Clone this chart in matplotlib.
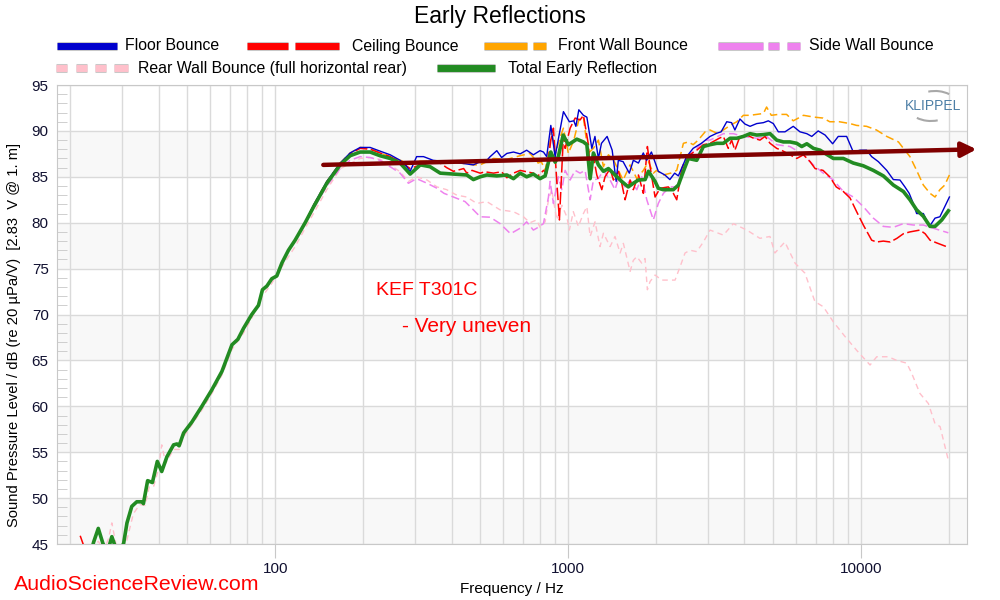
import numpy as np
import matplotlib
matplotlib.use('Agg')
from matplotlib import pyplot as plt
from matplotlib.lines import Line2D
from matplotlib.patches import Arc
from matplotlib.ticker import FixedLocator, NullFormatter, MultipleLocator, FuncFormatter
import matplotlib.patheffects as pe

plt.rcParams['font.family'] = ['Liberation Sans', 'DejaVu Sans']
plt.rcParams['lines.scale_dashes'] = False

# low end: all curves sit on top of each other below ~130 Hz
lf_pts = [(22.5, 44.3), (23.3, 43.6), (24.0, 45.2), (24.9, 46.7), (25.8, 45.1), (26.7, 44.0),
          (27.7, 45.8), (28.4, 44.8), (29.4, 44.0), (30.4, 45.1), (31.2, 47.3), (32.4, 49.1),
          (33.7, 49.6), (35.2, 49.6), (35.5, 49.4), (36.7, 51.9), (38.1, 51.7), (39.6, 54.0),
          (41.0, 52.9), (42.7, 54.5), (45.0, 55.8), (46.2, 55.9), (47.0, 55.7), (48.7, 57.1),
          (52.0, 58.3), (56.2, 60.0), (60.8, 61.8), (65.8, 63.8), (71.2, 66.7), (74.6, 67.3),
          (78.0, 68.5), (83.2, 70.0), (87.7, 71.0), (90.5, 72.7), (93.7, 73.1), (97.4, 73.9),
          (101.3, 74.2), (105.4, 75.6), (111.0, 77.0), (117.0, 78.1), (126.6, 80.0)]

floor_pts = [(135.1, 81.9), (150.1, 84.5), (166.7, 86.5), (180.3, 87.6), (195, 88.2), (211, 88.2),
             (228, 87.8), (247, 87.4), (267, 86.8), (280, 86.2), (289, 85.6), (304, 87.2), (321, 87.2),
             (346, 86.8), (385, 86.65), (428, 86.5), (475, 86.3), (501, 86.65), (528, 86.8), (542, 87.2),
             (571, 87.85), (593, 87.1), (618, 87.55), (651, 87.7), (686, 87.5), (722, 87.9), (761, 87.4),
             (802, 87.85), (824, 87.7), (845, 87.2), (873, 90.6), (903, 87.2), (964, 92.1), (1010, 91.0),
             (1046, 91.1), (1063, 90.5), (1088, 92.3), (1128, 91.7), (1159, 91.5), (1205, 88.1),
             (1235, 89.4), (1269, 87.0), (1300, 88.65), (1359, 89.4), (1414, 87.9), (1459, 84.5),
             (1484, 86.8), (1541, 86.65), (1618, 85.4), (1670, 86.8), (1738, 86.5), (1806, 87.6),
             (1854, 86.8), (1925, 87.7), (2032, 85.6), (2140, 85.2), (2225, 84.7), (2311, 85.4),
             (2379, 85.1), (2539, 87.2), (2672, 88.1), (2852, 88.65), (3052, 89.4), (3218, 89.75),
             (3330, 89.9), (3480, 91.0), (3615, 90.9), (3710, 90.1), (3860, 91.3), (4015, 90.75),
             (4180, 90.5), (4404, 90.8), (4641, 90.9), (4825, 91.1), (5018, 90.8), (5220, 89.9),
             (5500, 89.9), (5870, 90.5), (6190, 89.9), (6530, 89.7), (6790, 89.4), (7140, 90.0),
             (7540, 89.55), (8000, 88.6), (8360, 89.4), (8930, 89.4), (9410, 87.7), (9920, 87.9),
             (10450, 87.9), (10870, 87.2), (11460, 86.65), (12240, 85.7), (12890, 84.7), (13580, 84.65),
             (14120, 83.9), (14600, 83.2), (15080, 82.1), (15480, 81.0), (16320, 81.0), (17130, 79.6),
             (17890, 80.5), (18590, 80.65), (20030, 82.8)]

ceiling_start = [(21.6, 45.9)]
ceiling_pts = [(135.1, 81.8), (150.1, 84.4), (166.7, 86.4), (180.3, 87.5), (195, 88.1), (211, 88.0),
               (228, 87.6), (247, 87.2), (267, 86.65), (289, 85.9), (313, 86.3), (338, 86.5), (366, 86.5),
               (385, 86.0), (406, 85.6), (440, 85.9), (451, 85.4), (470, 85.7), (501, 85.4), (520, 85.55),
               (556, 85.4), (593, 85.55), (618, 84.9), (651, 85.4), (686, 85.7), (722, 85.55), (761, 85.4),
               (781, 85.0), (802, 85.3), (824, 85.7), (845, 85.4), (873, 89.0), (891, 90.3), (915, 84.5),
               (934, 80.3), (964, 89.55), (977, 88.1), (1016, 90.3), (1057, 91.4), (1099, 91.2),
               (1128, 91.7), (1173, 88.5), (1189, 85.6), (1220, 87.2), (1253, 85.2), (1303, 83.6),
               (1337, 85.0), (1391, 85.9), (1428, 84.65), (1485, 85.6), (1524, 84.3), (1565, 82.5),
               (1628, 84.65), (1670, 83.6), (1738, 85.2), (1807, 83.2), (1865, 88.3), (1905, 86.1),
               (1981, 82.8), (2060, 83.75), (2199, 83.9), (2287, 83.2), (2349, 82.5), (2444, 85.9),
               (2541, 87.2), (2749, 87.9), (2896, 88.5), (3052, 88.65), (3280, 89.2), (3389, 89.4),
               (3522, 88.1), (3615, 89.0), (3710, 87.9), (3860, 89.4), (4080, 89.55), (4300, 89.2),
               (4520, 89.0), (4700, 89.4), (4891, 88.65), (5153, 88.1), (5350, 87.9), (5722, 87.4),
               (6031, 87.0), (6360, 87.4), (6700, 86.65), (6970, 85.9), (7420, 85.7), (7820, 85.0),
               (8230, 83.9), (8700, 83.4), (9170, 82.7), (9660, 81.2), (10181, 79.75), (10870, 78.1),
               (11290, 77.9), (11918, 78.0), (12580, 77.9), (13260, 78.3), (13951, 78.8), (14689, 79.0),
               (15890, 79.2), (16550, 78.8), (17200, 78.1), (18130, 77.8), (19560, 77.4)]

front_pts = [(135.1, 81.9), (150.1, 84.5), (166.7, 86.5), (180.3, 87.6), (195, 88.2), (211, 88.1),
             (228, 87.6), (247, 87.2), (267, 86.8), (289, 86.5), (313, 86.7), (366, 86.65), (428, 86.5),
             (475, 86.3), (501, 86.3), (556, 87.0), (618, 86.9), (686, 87.3), (741, 87.55), (790, 86.5),
             (810, 86.65), (835, 85.7), (857, 87.55), (879, 90.1), (903, 87.4), (937, 89.2), (964, 90.3),
             (1002, 87.55), (1046, 89.0), (1088, 91.2), (1128, 91.5), (1170, 87.55), (1220, 88.1),
             (1269, 89.0), (1320, 86.1), (1373, 87.4), (1432, 86.8), (1485, 85.7), (1541, 84.65),
             (1628, 86.3), (1716, 84.8), (1807, 85.7), (1880, 86.65), (1954, 85.4), (2006, 85.7),
             (2115, 85.2), (2240, 85.4), (2349, 85.7), (2475, 88.65), (2574, 88.8), (2672, 88.5),
             (2780, 89.0), (2936, 89.9), (3052, 90.1), (3218, 89.75), (3389, 90.1), (3572, 90.6),
             (3765, 91.0), (3966, 91.7), (4180, 91.7), (4404, 91.8), (4641, 91.9), (4760, 92.6),
             (4940, 91.7), (5220, 91.8), (5570, 91.8), (5870, 91.1), (6360, 91.7), (6930, 91.5),
             (7420, 91.4), (7820, 91.0), (8430, 91.0), (9170, 90.8), (9660, 90.6), (10450, 90.5),
             (11290, 90.1), (12240, 89.4), (13420, 88.8), (13951, 88.1), (14689, 87.2), (15479, 85.7),
             (16320, 84.1), (17200, 83.2), (17890, 82.8), (18590, 83.6), (19310, 84.1), (20030, 85.2)]

side_pts = [(135.1, 81.5), (150.1, 84.0), (166.7, 85.9), (180.3, 86.8), (195, 87.2), (211, 87.1),
            (228, 86.8), (247, 86.1), (267, 85.4), (285, 84.3), (304, 84.8), (330, 84.3), (357, 83.75),
            (377, 83.2), (406, 82.8), (445, 82.3), (475, 81.4), (501, 80.65), (542, 80.6), (586, 79.9),
            (636, 78.8), (686, 79.4), (722, 80.1), (761, 79.2), (781, 79.4), (824, 79.9), (857, 82.8),
            (868, 84.5), (891, 82.1), (927, 85.0), (952, 83.6), (977, 85.7), (1016, 84.65), (1057, 85.7),
            (1099, 85.4), (1143, 85.7), (1189, 82.5), (1220, 84.65), (1269, 84.8), (1320, 85.7),
            (1391, 84.65), (1446, 83.6), (1485, 84.8), (1565, 83.9), (1628, 84.65), (1716, 83.6),
            (1784, 85.0), (1856, 82.5), (1954, 80.3), (2032, 82.1), (2115, 83.2), (2229, 83.9),
            (2349, 83.9), (2475, 86.1), (2574, 87.2), (2749, 88.1), (2936, 89.0), (3052, 89.0),
            (3389, 89.7), (3665, 89.7), (3966, 89.4), (4404, 89.2), (4763, 89.4), (5153, 88.5),
            (5722, 88.3), (6355, 87.4), (6873, 86.3), (7433, 85.4), (8044, 84.65), (8700, 83.4),
            (9410, 82.8), (10180, 81.75), (11015, 80.5), (11915, 79.6), (12890, 79.5), (13945, 79.9),
            (15080, 79.75), (16320, 79.75), (17650, 79.4), (19860, 78.9)]

rear_pts = [(22.5, 43.5), (24.9, 45.3), (26.0, 44.3), (27.0, 45.6), (27.7, 47.3), (28.6, 45.0),
            (30.4, 44.0), (31.5, 46.0), (32.8, 48.3), (34.5, 49.3), (36.0, 49.2), (37.2, 51.3),
            (38.5, 51.3), (40.0, 53.2), (41.0, 55.8), (42.3, 53.8), (45.0, 55.3), (47.0, 55.3),
            (48.7, 56.7), (52.0, 58.0), (56.2, 59.6), (60.8, 61.4), (65.8, 63.4), (71.2, 66.2),
            (78.0, 68.0), (83.2, 69.6), (90.5, 72.0), (97.4, 73.4), (105.4, 75.2), (117, 77.4),
            (126.6, 79.4), (135.1, 81.0), (150.1, 83.6), (167, 85.9), (195, 87.0), (211, 87.1),
            (228, 86.9), (247, 86.3), (267, 85.55), (285, 84.5), (304, 85.0), (330, 84.65), (357, 83.9),
            (385, 83.6), (417, 83.0), (451, 82.8), (488, 82.1), (528, 82.3), (586, 81.4), (651, 81.2),
            (704, 80.65), (741, 80.0), (781, 80.3), (802, 79.5), (835, 80.1), (857, 82.5), (879, 83.6),
            (915, 80.3), (952, 81.9), (990, 80.65), (1010, 79.2), (1042, 81.2), (1084, 79.6),
            (1128, 81.0), (1159, 81.75), (1189, 78.5), (1236, 80.1), (1285, 77.4), (1320, 78.85),
            (1391, 77.4), (1446, 78.5), (1505, 76.7), (1544, 77.75), (1628, 74.7), (1670, 75.9),
            (1716, 76.3), (1784, 75.6), (1831, 76.1), (1865, 72.7), (1905, 73.6), (1981, 74.3),
            (2089, 73.75), (2229, 73.75), (2318, 73.75), (2411, 75.2), (2507, 76.7), (2609, 77.0),
            (2749, 76.85), (2896, 77.9), (3052, 79.2), (3389, 78.65), (3665, 79.9), (4074, 79.2),
            (4516, 78.3), (4888, 78.5), (5081, 76.7), (5495, 77.9), (5953, 75.6), (6435, 74.5),
            (6960, 71.4), (7433, 70.85), (8044, 69.2), (8818, 67.6), (9663, 66.1), (10735, 64.5),
            (11314, 65.4), (12390, 65.4), (13240, 65.0), (14320, 64.7), (14890, 63.6), (15890, 61.4),
            (16980, 60.3), (17890, 58.1), (18610, 57.8), (19350, 55.6), (19870, 54.1)]

total_pts = [(135.1, 81.7), (150.1, 84.3), (166.7, 86.3), (180.3, 87.3), (195, 87.7), (211, 87.7),
             (228, 87.3), (247, 87.0), (267, 86.5), (289, 85.3), (313, 86.3), (338, 86.1), (366, 85.4),
             (406, 85.3), (451, 85.2), (475, 84.7), (501, 85.0), (528, 85.2), (571, 85.1), (618, 85.2),
             (651, 84.8), (686, 85.4), (722, 85.0), (761, 85.3), (802, 84.8), (835, 85.1), (873, 87.7),
             (903, 86.6), (926, 87.2), (962, 89.55), (1002, 88.5), (1071, 89.1), (1128, 88.8),
             (1159, 88.5), (1189, 84.8), (1220, 87.6), (1269, 86.3), (1320, 85.6), (1373, 85.9),
             (1446, 85.2), (1524, 84.5), (1605, 83.9), (1670, 84.3), (1738, 84.65), (1832, 84.7),
             (1880, 85.6), (1981, 84.5), (2032, 83.75), (2114, 83.6), (2287, 83.6), (2379, 84.1),
             (2475, 85.6), (2574, 87.0), (2749, 86.8), (2896, 88.3), (3052, 88.5), (3218, 88.65),
             (3389, 88.65), (3572, 89.2), (3765, 89.2), (3966, 89.4), (4180, 89.7), (4404, 89.55),
             (4641, 89.6), (4891, 89.7), (5153, 89.0), (5430, 88.8), (5722, 88.8), (6031, 88.65),
             (6275, 88.3), (6530, 88.6), (6879, 88.1), (7248, 87.9), (7540, 87.55), (8045, 87.0),
             (8700, 87.0), (9410, 86.5), (10181, 86.2), (11016, 85.7), (11918, 85.1), (12894, 84.1),
             (13951, 83.4), (14689, 82.5), (15479, 81.4), (16320, 80.7), (17200, 79.6), (17890, 79.6),
             (18860, 80.3), (19870, 81.3)]

# trend arrow drawn by hand on the original
arrow_from = (146, 86.3)
arrow_to = (24800, 88.0)

series = [
    ('Rear Wall Bounce (full horizontal rear)', rear_pts, '#ffc0cb', 1.0, (4, 3), 2),
    ('Side Wall Bounce', lf_pts + side_pts, '#ee82ee', 1.1, (6, 3), 3),
    ('Front Wall Bounce', lf_pts + front_pts, '#ffa500', 1.1, (6, 3), 4),
    ('Ceiling Bounce', ceiling_start + lf_pts + ceiling_pts, '#ff0000', 1.1, (9, 2.5), 5),
    ('Floor Bounce', lf_pts + floor_pts, '#0000cd', 1.0, None, 6),
    ('Total Early Reflection', lf_pts + total_pts, '#228b22', 2.6, None, 7),
]

fig = plt.figure(figsize=(10, 6), dpi=100)
ax = fig.add_axes([0.057, 0.0933, 0.910, 0.765])

for lo in range(45, 95, 10):
    ax.axhspan(lo, lo + 5, color='#f8f8f8', zorder=0, lw=0)

for name, pts, color, lw, dash, z in series:
    f, db = zip(*pts)
    line, = ax.plot(f, db, color=color, lw=lw, zorder=z, label=name)
    if dash:
        line.set_dashes(dash)

ax.annotate('', xy=arrow_to, xytext=arrow_from, annotation_clip=False, zorder=10,
            arrowprops=dict(arrowstyle='-|>', lw=3.2, color='#800000', mutation_scale=22,
                            shrinkA=0, shrinkB=0))

ax.set_xscale('log')
ax.set_xlim(18, 23000)
ax.set_ylim(45, 95)
ax.xaxis.set_major_locator(FixedLocator([100, 1000, 10000]))
ax.xaxis.set_major_formatter(FuncFormatter(lambda v, p: f'{v:.0f}'))
minor = [m * d for d in (10, 100, 1000, 10000) for m in range(2, 10)]
ax.xaxis.set_minor_locator(FixedLocator(minor))
ax.xaxis.set_minor_formatter(NullFormatter())
ax.yaxis.set_major_locator(MultipleLocator(5))
ax.yaxis.set_minor_locator(MultipleLocator(1))

ax.grid(which='both', axis='x', color='#dadada', lw=1, zorder=1)
ax.grid(which='major', axis='y', color='#dadada', lw=1, zorder=1)
ax.set_axisbelow(True)
ax.tick_params(axis='x', which='major', length=10, color='#c8c8c8', labelsize=11, pad=3,
               labelcolor='#101030')
ax.tick_params(axis='x', which='minor', length=0)
ax.tick_params(axis='y', which='major', length=0, labelsize=11, pad=6, labelcolor='#101030')
ax.tick_params(axis='y', which='minor', direction='in', length=7.5, color='#c8c8c8')
for s in ax.spines.values():
    s.set_color('#c8c8c8')

ax.set_xlabel('Frequency / Hz', fontsize=11, labelpad=4)
fig.text(0.007, 1 - 335 / 600, 'Sound Pressure Level / dB (re 20 µPa/V)  [2.83  V @ 1. m]',
         rotation=90, va='center', ha='left', fontsize=10.6)
fig.text(0.5, 1 - 17 / 600, 'Early Reflections', ha='center', va='center', fontsize=16.5)

# legend laid out the way the source does it (two uneven rows)
legend_rows = [
    (46, [('Floor Bounce', '#0000cd', [(57, 117)], 125),
          ('Ceiling Bounce', '#ff0000', [(247, 288), (295, 339)], 352),
          ('Front Wall Bounce', '#ffa500', [(484, 527), (533, 546)], 558),
          ('Side Wall Bounce', '#ee82ee', [(718, 763), (768, 779), (787, 800)], 809)]),
    (68, [('Rear Wall Bounce (full horizontal rear)', '#ffc0cb',
           [(56, 67), (76, 87), (95, 106), (114, 128)], 138),
          ('Total Early Reflection', '#228b22', [(437, 495)], 508)]),
]
for y, entries in legend_rows:
    yf = 1 - y / 600
    for name, color, segs, tx in entries:
        for x0, x1 in segs:
            fig.add_artist(Line2D([x0 / 1000, x1 / 1000], [yf, yf], transform=fig.transFigure,
                                  color=color, lw=5, solid_capstyle='butt',
                                  path_effects=[pe.withStroke(linewidth=6.5, foreground='#c8c8c8',
                                                              capstyle='butt')]))
        fig.text(tx / 1000, yf, name, va='center', ha='left', fontsize=11.4)

ax.text(0.351, 0.552, 'KEF T301C', transform=ax.transAxes, color='#ff0000', fontsize=14,
        ha='left', va='center')
ax.text(0.379, 0.474, '- Very uneven', transform=ax.transAxes, color='#ff0000', fontsize=15,
        ha='left', va='center')
fig.text(0.014, 1 - 584 / 600, 'AudioScienceReview.com', color='#ff0000', fontsize=15.4,
         ha='left', va='center')

# Klippel logo
lax = fig.add_axes([0.898, 0.795, 0.07, 0.06])
lax.set_xlim(0, 70)
lax.set_ylim(0, 36)
lax.axis('off')
lax.text(35, 17, 'KLIPPEL', ha='center', va='center', fontsize=10, color='#4d7fa6')
lax.add_patch(Arc((37, 17), 46, 30, theta1=40, theta2=115, color='#a8a8a8', lw=1.5))
lax.add_patch(Arc((33, 17), 46, 30, theta1=220, theta2=295, color='#a8a8a8', lw=1.5))

fig.savefig('out.png', dpi=100)
